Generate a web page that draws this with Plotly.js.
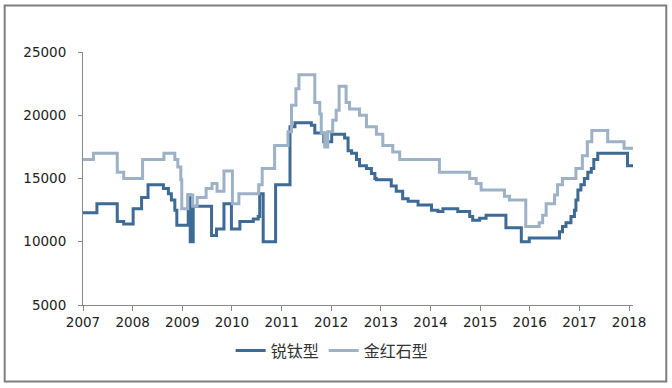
<!DOCTYPE html>
<html>
<head>
<meta charset="utf-8">
<script src="https://cdn.plot.ly/plotly-3.0.1.min.js"></script>
<style>html,body{margin:0;padding:0;background:#fff;}#chart{width:672px;height:388px;}</style>
</head>
<body>
<div id="chart"></div>
<script>
// 锐钛型 (anatase) step series: time (decimal year) and price
var anataseX = [2007.00, 2007.28, 2007.69, 2007.82, 2008.01, 2008.18, 2008.31, 2008.62, 2008.72, 2008.78,
  2008.85, 2008.89, 2009.12, 2009.16, 2009.18, 2009.20, 2009.22, 2009.24, 2009.59, 2009.69,
  2009.84, 2009.99, 2010.16, 2010.43, 2010.53, 2010.56, 2010.63, 2010.88, 2011.17, 2011.27,
  2011.60, 2011.67, 2011.77, 2011.85, 2012.01, 2012.27, 2012.34, 2012.41, 2012.51, 2012.57,
  2012.71, 2012.81, 2012.88, 2012.91, 2013.21, 2013.31, 2013.44, 2013.55, 2013.75, 2014.02,
  2014.15, 2014.25, 2014.55, 2014.79, 2014.85, 2014.99, 2015.12, 2015.52, 2015.83, 2015.99,
  2016.60, 2016.66, 2016.73, 2016.83, 2016.90, 2016.93, 2016.97, 2017.03, 2017.10, 2017.17,
  2017.24, 2017.29, 2017.37, 2017.97, 2018.08];
var anataseY = [12300, 13000, 11600, 11400, 12600, 13500, 14500, 14200, 13800, 13300,
  12500, 11300, 13700, 10000, 12800, 10000, 12800, 12800, 10500, 11000,
  13000, 11000, 11600, 11800, 12000, 13800, 10000, 14500, 19100, 19400,
  19200, 18600, 18600, 17900, 18500, 18200, 17200, 17000, 16500, 16000,
  15800, 15400, 15000, 14900, 14400, 14000, 13400, 13200, 12900, 12500,
  12400, 12600, 12400, 12000, 11700, 11850, 12100, 11100, 10000, 10300,
  10800, 11200, 11500, 12000, 12500, 13300, 14100, 14500, 15000, 15500,
  15800, 16500, 17000, 16000, 16000];

// 金红石型 (rutile) step series
var rutileX = [2007.00, 2007.21, 2007.69, 2007.82, 2008.20, 2008.63, 2008.85, 2008.91, 2008.97, 2008.99,
  2009.11, 2009.21, 2009.30, 2009.48, 2009.60, 2009.70, 2009.84, 2010.01, 2010.14, 2010.54,
  2010.61, 2010.86, 2011.13, 2011.20, 2011.29, 2011.35, 2011.67, 2011.77, 2011.80, 2011.87,
  2011.93, 2012.03, 2012.10, 2012.16, 2012.30, 2012.37, 2012.57, 2012.71, 2012.91, 2013.04,
  2013.24, 2013.38, 2014.18, 2014.79, 2014.92, 2015.02, 2015.49, 2015.59, 2015.92, 2016.19,
  2016.26, 2016.33, 2016.50, 2016.56, 2016.66, 2016.93, 2017.06, 2017.16, 2017.25, 2017.57,
  2017.90, 2018.08];
var rutileY = [16500, 17000, 15500, 15000, 16500, 17000, 16500, 15900, 14900, 12600,
  13700, 12800, 13500, 14200, 14600, 14000, 15600, 13000, 13800, 14500,
  15800, 17600, 18700, 20800, 22100, 23200, 21000, 20100, 18600, 17500,
  18700, 19600, 20400, 22300, 21000, 20500, 20000, 19100, 18500, 17600,
  17100, 16500, 15500, 15000, 14600, 14100, 13600, 13300, 11200, 11500,
  12100, 13000, 13700, 14500, 15000, 15800, 16800, 17900, 18800, 17900,
  17400, 17400];

var seriesNames = ['锐钛型', '金红石型'];
var yearTicks = [2007, 2008, 2009, 2010, 2011, 2012, 2013, 2014, 2015, 2016, 2017, 2018];
var valueTicks = [5000, 10000, 15000, 20000, 25000];

var traces = [
  {x: anataseX, y: anataseY, name: seriesNames[0], type: 'scatter', mode: 'lines',
   line: {shape: 'hv', color: '#3d6b95', width: 3}},
  {x: rutileX, y: rutileY, name: seriesNames[1], type: 'scatter', mode: 'lines',
   line: {shape: 'hv', color: '#9db1c8', width: 3}}
];

var axisFont = {family: 'DejaVu Sans, sans-serif', size: 13.5, color: '#222'};

var layout = {
  width: 672, height: 388,
  margin: {l: 83, r: 39, t: 52, b: 83},
  paper_bgcolor: '#ffffff', plot_bgcolor: '#ffffff',
  showlegend: true,
  legend: {orientation: 'h', x: 0.453, xanchor: 'center', y: -0.18, yanchor: 'middle',
    font: {family: 'Noto Sans CJK SC, sans-serif', size: 16, color: '#333'},
    itemwidth: 30, bgcolor: 'rgba(0,0,0,0)'},
  xaxis: {range: [2007, 2018.08], tickvals: yearTicks, ticktext: yearTicks.map(String),
    showgrid: false, zeroline: false, showline: true, linecolor: '#8a8a8a', linewidth: 1,
    ticks: 'outside', ticklen: 5, tickcolor: '#8a8a8a', tickfont: axisFont},
  yaxis: {range: [5000, 25000], tickvals: valueTicks, ticktext: valueTicks.map(String),
    showgrid: false, zeroline: false, showline: true, linecolor: '#8a8a8a', linewidth: 1,
    ticks: 'outside', ticklen: 4, tickcolor: '#8a8a8a', tickfont: axisFont,
    ticklabelstandoff: 9},
  shapes: [{type: 'rect', xref: 'paper', yref: 'paper', x0: -0.1424, x1: 1.0605, y0: -0.3024, y1: 1.184,
    line: {color: '#7f7f7f', width: 2}, fillcolor: 'rgba(0,0,0,0)', layer: 'below'}]
};

Plotly.newPlot('chart', traces, layout, {displayModeBar: false, staticPlot: true});
</script>
</body>
</html>
